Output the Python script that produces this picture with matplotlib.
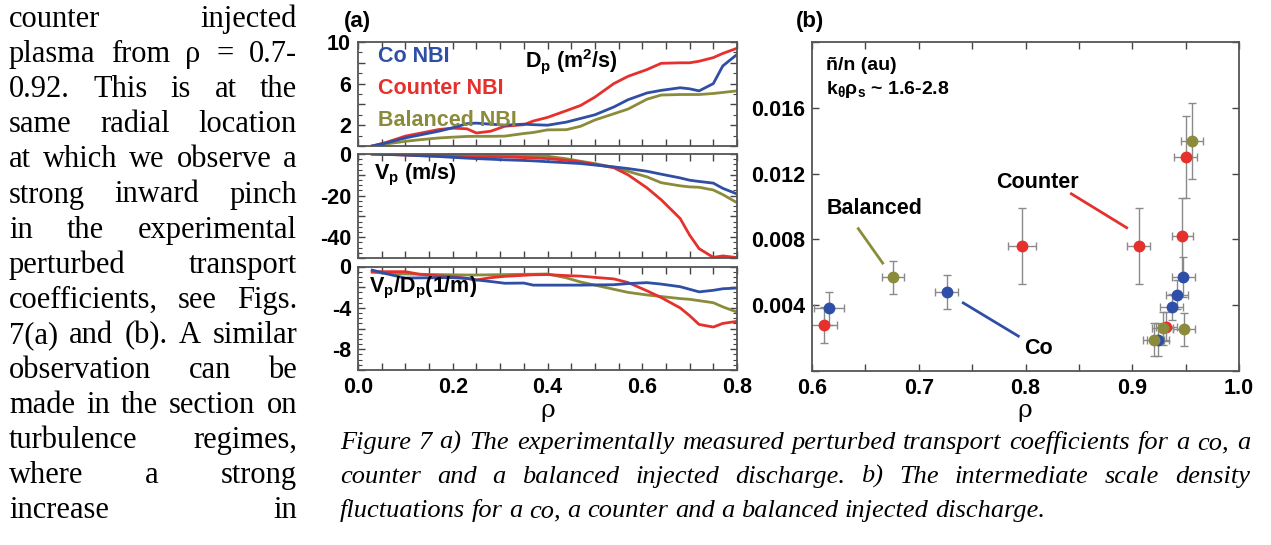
import matplotlib
matplotlib.use('Agg')
import matplotlib.pyplot as plt
import numpy as np
from matplotlib.ticker import MultipleLocator

plt.rcParams['font.family'] = ['Liberation Sans', 'DejaVu Sans']
plt.rcParams['font.weight'] = 'bold'
plt.rcParams['mathtext.default'] = 'regular'

# ---- panel (a): perturbed transport coefficients ----
rho = [0.03, 0.06, 0.10, 0.13, 0.17, 0.20, 0.23, 0.25, 0.28, 0.31, 0.35, 0.37, 0.40,
       0.44, 0.47, 0.50, 0.54, 0.57, 0.61, 0.64, 0.68, 0.70, 0.72, 0.75, 0.77, 0.80]

d_co = [0.0, 0.3, 0.78, 1.05, 1.42, 1.75, 2.15, 2.2, 2.1, 2.0, 2.1, 2.05, 2.0,
        2.3, 2.65, 3.0, 3.75, 4.45, 5.1, 5.35, 5.6, 5.5, 5.3, 6.0, 7.7, 8.8]
d_counter = [0.0, 0.35, 0.95, 1.22, 1.58, 1.72, 1.65, 1.25, 1.42, 1.9, 2.05, 2.4, 2.75,
             3.4, 3.9, 4.7, 6.0, 6.7, 7.35, 7.95, 8.0, 8.0, 8.15, 8.5, 8.9, 9.4]
d_bal = [0.0, 0.2, 0.45, 0.6, 0.77, 0.85, 0.92, 0.93, 0.93, 0.95, 1.2, 1.3, 1.55,
         1.57, 1.9, 2.5, 3.1, 3.55, 4.5, 4.9, 4.95, 4.95, 4.95, 5.05, 5.15, 5.3]

v_co = [0, -0.2, -0.5, -0.8, -1.2, -1.6, -2.0, -2.2, -2.5, -2.8, -3.1, -3.3, -3.7,
        -4.2, -4.6, -5.3, -6.2, -7.0, -8.3, -9.7, -11.5, -12.6, -13.2, -14.0, -16.5, -19.2]
v_counter = [0, -0.2, -0.5, -0.8, -1.0, -1.2, -1.3, -1.4, -1.3, -1.4, -1.7, -1.9, -2.2,
             -3.0, -3.8, -5.0, -6.6, -10.0, -16.3, -22.0, -31.0, -39.0, -45.5, -49.7, -49.0, -49.8]
v_bal = [0, -0.1, -0.2, -0.3, -0.3, -0.4, -0.4, -0.5, -0.5, -0.6, -0.8, -0.9, -1.1,
         -2.3, -3.5, -4.6, -6.4, -8.3, -11.0, -13.8, -15.3, -15.8, -16.0, -17.3, -19.5, -23.4]

vd_co = [-0.35, -0.7, -1.12, -1.1, -1.08, -1.08, -1.15, -1.3, -1.45, -1.62, -1.6, -1.8, -1.8,
         -1.8, -1.8, -1.78, -1.76, -1.65, -1.56, -1.7, -1.95, -2.2, -2.45, -2.3, -2.15, -2.08]
vd_counter = [-0.5, -0.5, -0.5, -0.75, -0.9, -0.98, -1.15, -1.3, -1.08, -0.95, -0.85, -0.8, -0.78,
              -0.88, -0.93, -1.05, -1.2, -1.55, -2.35, -3.0, -4.0, -4.75, -5.6, -5.85, -5.5, -5.3]
vd_bal = [-0.56, -0.65, -0.72, -0.75, -0.78, -0.8, -0.82, -0.82, -0.8, -0.78, -0.75, -0.75, -0.72,
          -1.1, -1.5, -1.8, -2.2, -2.5, -2.75, -2.9, -3.1, -3.17, -3.3, -3.5, -3.9, -4.4]

# ---- panel (b): density fluctuations ----
co_rho = [0.616, 0.726, 0.924, 0.937, 0.942, 0.948]
co_val = [0.0038, 0.0048, 0.0019, 0.0039, 0.00465, 0.0057]
co_yerr = [0.001, 0.00105, 0.001, 0.0008, 0.0009, 0.0012]
co_xerr = [0.014, 0.0105, 0.01, 0.011, 0.0105, 0.011]

ct_rho = [0.611, 0.797, 0.906, 0.932, 0.947, 0.950]
ct_val = [0.0028, 0.0076, 0.0076, 0.0027, 0.0082, 0.0130]
ct_yerr = [0.0011, 0.0023, 0.0023, 0.0009, 0.0023, 0.0025]
ct_xerr = [0.0125, 0.013, 0.0105, 0.01, 0.01, 0.0106]

ba_rho = [0.676, 0.920, 0.9285, 0.9485, 0.956]
ba_val = [0.0057, 0.0019, 0.0026, 0.00255, 0.0140]
ba_yerr = [0.001, 0.001, 0.001, 0.001, 0.0023]
ba_xerr = [0.01, 0.01, 0.01, 0.01, 0.0107]

body_lines = [
    "counter injected",
    "plasma from ρ = 0.7-",
    "0.92. This is at the",
    "same radial location",
    "at which we observe a",
    "strong inward pinch",
    "in the experimental",
    "perturbed transport",
    "coefficients, see Figs.",
    "7(a) and (b). A similar",
    "observation can be",
    "made in the section on",
    "turbulence regimes,",
    "where a strong",
    "increase in",
]
caption_lines = [
    "Figure 7 a) The experimentally measured perturbed transport coefficients for a co, a",
    "counter and a balanced injected discharge. b) The intermediate scale density",
    "fluctuations for a co, a counter and a balanced injected discharge.",
]

C_CO = '#2f4ea6'
C_CT = '#e5302c'
C_BA = '#8b8b3c'

W, H = 1271, 545
fig = plt.figure(figsize=(W / 100, H / 100), dpi=100)


def fx(x):
    return x / W


def fy(y):
    return 1 - y / H


def style(ax):
    ax.tick_params(which='both', direction='in', top=True, right=True,
                   color='#444444', labelsize=15.5, pad=5)
    ax.tick_params(which='major', length=5, width=1)
    ax.tick_params(which='minor', length=3, width=0.8)
    for s in ax.spines.values():
        s.set_color('#555555')
        s.set_linewidth(1.3)


def put_line(words, x0, x1, ybase, justify, **kw):
    r = fig.canvas.get_renderer()
    ts = [fig.text(0, fy(ybase), w, ha='left', va='baseline', **kw) for w in words]
    ws = [t.get_window_extent(r).width for t in ts]
    if justify and len(words) > 1:
        gap = (x1 - x0 - sum(ws)) / (len(words) - 1)
    else:
        a = fig.text(0, 0, 'a a', **kw)
        b = fig.text(0, 0, 'aa', **kw)
        gap = a.get_window_extent(r).width - b.get_window_extent(r).width
        a.remove()
        b.remove()
    x = x0
    for t, w in zip(ts, ws):
        t.set_x(fx(x))
        x += w + gap


# axes of panel (a)
ax1 = fig.add_axes([fx(358), fy(146), fx(737 - 358), (146 - 42) / H])
ax2 = fig.add_axes([fx(358), fy(258), fx(737 - 358), (258 - 154) / H])
ax3 = fig.add_axes([fx(358), fy(370), fx(737 - 358), (370 - 266.5) / H])

for ax, (yc, yt, yb) in zip([ax1, ax2, ax3],
                            [(d_co, d_counter, d_bal), (v_co, v_counter, v_bal),
                             (vd_co, vd_counter, vd_bal)]):
    ax.plot(rho, yb, color=C_BA, lw=2)
    ax.plot(rho, yt, color=C_CT, lw=2)
    ax.plot(rho, yc, color=C_CO, lw=2)
    ax.set_xlim(0, 0.8)
    xt = np.arange(0, 0.801, 0.05)
    ax.set_xticks(xt)
    style(ax)

ax1.set_xticklabels([])
ax2.set_xticklabels([])
ax3.set_xticklabels(['%.1f' % v if round(v * 100) % 20 == 0 else '' for v in xt])

ax1.set_ylim(0, 10)
ax1.set_yticks([0, 2, 4, 6, 8, 10])
ax1.set_yticklabels(['', '2', '', '6', '', '10'])
ax1.yaxis.set_minor_locator(MultipleLocator(1))

ax2.set_ylim(-50, 0)
ax2.set_yticks([-50, -40, -30, -20, -10, 0])
ax2.set_yticklabels(['', '-40', '', '-20', '', '0'])
ax2.yaxis.set_minor_locator(MultipleLocator(2.5))

ax3.set_ylim(-10, 0)
ax3.set_yticks([-10, -8, -6, -4, -2, 0])
ax3.set_yticklabels(['', '-8', '', '-4', '', '0'])
ax3.yaxis.set_minor_locator(MultipleLocator(0.5))

fig.text(fx(378), fy(57), 'Co NBI', color=C_CO, fontsize=15.5, va='center')
fig.text(fx(378), fy(88), 'Counter NBI', color=C_CT, fontsize=15.5, va='center')
fig.text(fx(378), fy(120), 'Balanced NBI', color=C_BA, fontsize=15.5, va='center')
fig.text(fx(525), fy(62), r'D$_p$ (m$^2$/s)', fontsize=15.5, va='center')
fig.text(fx(374), fy(175), r'V$_p$ (m/s)', fontsize=15.5, va='center')
fig.text(fx(369), fy(288), r'V$_p$/D$_p$(1/m)', fontsize=15.5, va='center')
fig.text(fx(357), fy(22), '(a)', fontsize=16, ha='center', va='center')
fig.text(fx(548), fy(410), 'ρ', fontsize=18, family='DejaVu Serif',
         weight='normal', ha='center', va='center')

# axes of panel (b)
axb = fig.add_axes([fx(812), fy(371), fx(1239 - 812), (371 - 42) / H])
for r_, v_, ye, xe in [(co_rho, co_val, co_yerr, co_xerr),
                       (ct_rho, ct_val, ct_yerr, ct_xerr),
                       (ba_rho, ba_val, ba_yerr, ba_xerr)]:
    axb.errorbar(r_, v_, yerr=ye, xerr=xe, fmt='none', ecolor='#8a8a8a',
                 elinewidth=1, capsize=3, capthick=1, zorder=2)
for r_, v_, c in [(co_rho, co_val, C_CO), (ct_rho, ct_val, C_CT), (ba_rho, ba_val, C_BA)]:
    axb.plot(r_, v_, 'o', color=c, markersize=7.5, zorder=3)

axb.set_xlim(0.6, 1.0)
axb.set_ylim(0, 0.02)
bx = np.arange(0.6, 1.001, 0.05)
axb.set_xticks(bx)
axb.set_xticklabels(['%.1f' % v if round(v * 100) % 10 == 0 else '' for v in bx])
axb.set_yticks([0, 0.004, 0.008, 0.012, 0.016, 0.02])
axb.set_yticklabels(['', '0.004', '0.008', '0.012', '0.016', ''])
style(axb)

axb.plot([0.843, 0.8948], [0.01077, 0.00871], color=C_CT, lw=2)
axb.plot([0.6434, 0.6662], [0.00865, 0.00656], color=C_BA, lw=2)
axb.plot([0.7417, 0.7933], [0.00414, 0.00212], color=C_CO, lw=2)
fig.text(fx(1037), fy(182), 'Counter', fontsize=15.5, ha='center', va='center')
fig.text(fx(875), fy(208), 'Balanced', fontsize=15.5, ha='center', va='center')
fig.text(fx(1038), fy(349), 'Co', fontsize=15.5, ha='center', va='center')
fig.text(fx(826), fy(66), 'ñ/n (au)', fontsize=14, va='center')
fig.text(fx(826), fy(89), r'k$_θ$ρ$_s$ ~ 1.6-2.8', fontsize=14, va='center')
fig.text(fx(810), fy(22), '(b)', fontsize=16, ha='center', va='center')
fig.text(fx(1025), fy(411), 'ρ', fontsize=18, family='DejaVu Serif',
         weight='normal', ha='center', va='center')

# body text column and caption
for i, line in enumerate(body_lines):
    put_line(line.split(), 9, 297, 27 + 35.1 * i, True,
             family='Liberation Serif', weight='normal', fontsize=22)

for i, line in enumerate(caption_lines):
    put_line(line.split(), 340, 1250, 449 + 34 * i, i < 2,
             family='Liberation Serif', style='italic', weight='normal', fontsize=19)

fig.savefig('out.png', dpi=100)
